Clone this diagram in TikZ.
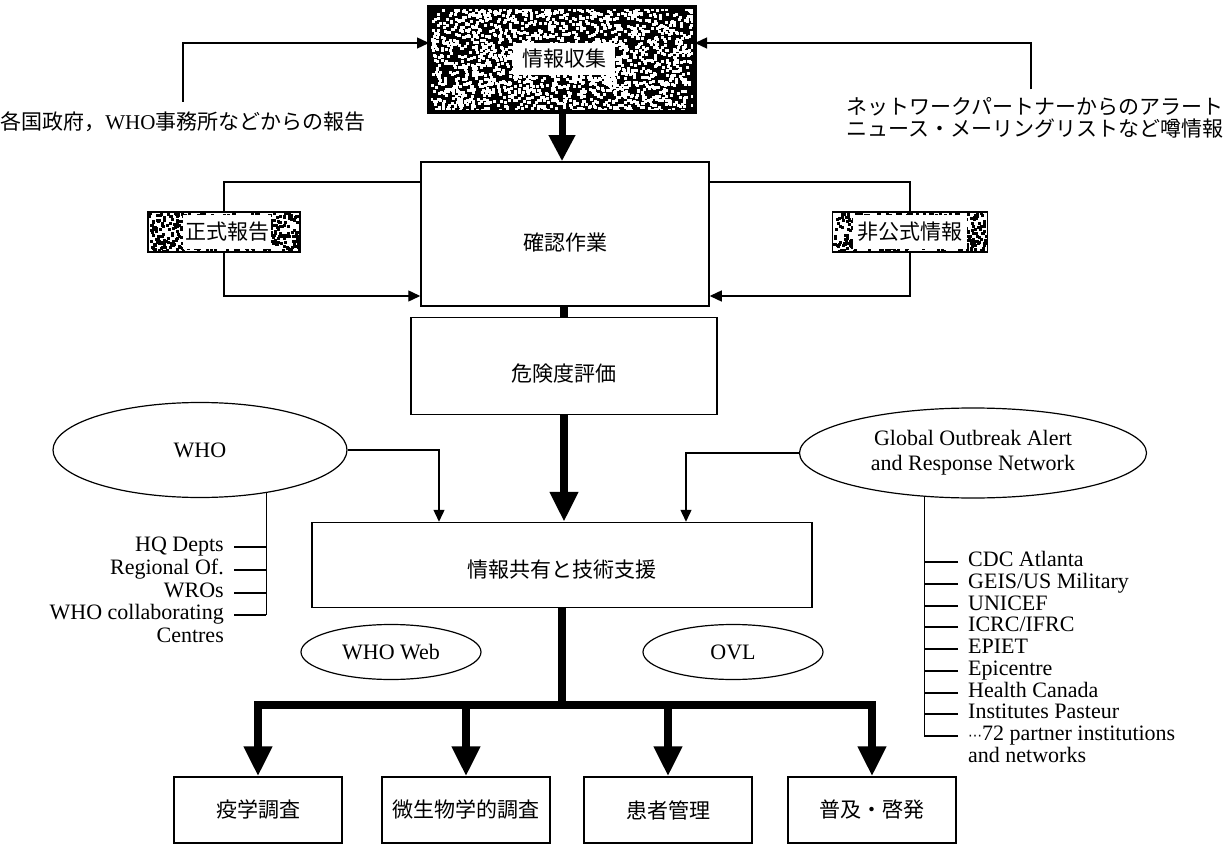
\documentclass[tikz,border=0pt]{standalone}
\usepackage{fontspec}
\setmainfont{Liberation Serif}
\newfontfamily\jp{Noto Sans CJK JP}
\newfontfamily\dv{DejaVu Sans}
\usetikzlibrary{arrows.meta,shapes.geometric}
\tikzset{
 conn/.style={line width=1.4pt},
 tarrow/.style={conn,-{Triangle[length=12pt,width=11pt]}},
 bigarrow/.style={line width=7.5pt,-{Triangle[length=30pt,width=27pt]}},
 thickline/.style={line width=7.5pt},
 plainbox/.style={draw,line width=1.5pt,fill=white,inner sep=0pt,font=\jp\fontsize{21}{26}\selectfont},
 jtext/.style={inner sep=0pt,font=\jp\fontsize{21}{26}\selectfont},
 etext/.style={inner sep=2pt,font=\fontsize{22}{23}\selectfont},
 listitem/.style={etext,text height=13pt,text depth=4pt},
 oval/.style={ellipse,draw,line width=1.2pt,inner sep=0pt,font=\fontsize{22}{25}\selectfont},
 noisybox/.style={draw,line width=1.2pt,fill=white,inner sep=0pt,outer sep=0pt},
 whitelabel/.style={fill=white,inner sep=0pt,font=\jp\fontsize{21}{26}\selectfont},
}
\begin{document}
\begin{tikzpicture}[x=1pt,y=-1pt]
\useasboundingbox (0,0) rectangle (1224,845);
\fill[white] (0,0) rectangle (1224,845);

% top box with noise
\node[fill=black,minimum width=266pt,minimum height=105pt,inner sep=0pt,outer sep=0pt] (collect) at (562,60) {};
\pgfmathsetseed{7}
\foreach \i in {1,...,1800}{
  \pgfmathsetmacro{\rx}{560.5+131*rand}
  \pgfmathsetmacro{\ry}{58.5+51*rand}
  \fill[white] (\rx,\ry) rectangle ++(3,3);
}
\draw[line width=4pt] (collect.north west) rectangle (collect.south east);
\node[whitelabel,minimum width=102pt,minimum height=32pt] (collectlbl) at (564,59) {情報収集};

% source texts
\node[jtext] (gov) at (183,122) {各国政府，{\rmfamily WHO}事務所などからの報告};
\node[jtext,align=center,font=\jp\fontsize{21}{22}\selectfont] (net) at (1035,118) {ネットワークパートナーからのアラート\\ニュース・メーリングリストなど噂情報};
\draw[tarrow] ([yshift=10pt]gov.north) |- ([yshift=17pt]collect.west);
\draw[tarrow] ([xshift=-4pt,yshift=8pt]net.north) |- ([yshift=17pt]collect.east);

% confirmation
\node[plainbox,minimum width=288pt,minimum height=144pt] (confirm) at (565,234) {};
\node[jtext] (confirmtxt) at (565,243) {確認作業};
\draw[line width=7pt,-{Triangle[length=26pt,width=25pt]}] (collect.south) -- (confirm.north -| collect.south);

% formal / informal
\node[noisybox,minimum width=152pt,minimum height=40pt] (formal) at (224,232) {};
\node[noisybox,minimum width=155pt,minimum height=40pt] (informal) at (910,232) {};
\foreach \i in {1,...,480}{
  \pgfmathsetmacro{\rx}{223+75*rand}
  \pgfmathsetmacro{\ry}{231+19*rand}
  \fill[black] (\rx,\ry) rectangle ++(3,3);
  \pgfmathsetmacro{\sx}{909+76*rand}
  \pgfmathsetmacro{\sy}{231+19*rand}
  \fill[black] (\sx,\sy) rectangle ++(3,3);
}
\draw[line width=1.2pt] (formal.north west) rectangle (formal.south east);
\draw[line width=1.2pt] (informal.north west) rectangle (informal.south east);
\node[whitelabel,minimum width=88pt,minimum height=34pt] (formallbl) at (227,232) {正式報告};
\node[whitelabel,minimum width=114pt,minimum height=34pt] (informallbl) at (910,232) {非公式情報};
\draw[conn] ([yshift=52pt]confirm.west) -| (formal.north);
\draw[tarrow] (formal.south) |- ([yshift=-62pt]confirm.west);
\draw[conn] ([yshift=52pt]confirm.east) -| (informal.north);
\draw[tarrow] (informal.south) |- ([yshift=-62pt]confirm.east);

% risk
\node[plainbox,minimum width=306pt,minimum height=97pt] (risk) at (564,366) {};
\node[jtext] (risktxt) at (564,374) {危険度評価};
\draw[thickline] (confirm.south -| risk.north) -- (risk.north);

% sharing
\node[plainbox,minimum width=500pt,minimum height=85pt] (share) at (562,565) {};
\node[jtext] (sharetxt) at (562,570) {情報共有と技術支援};
\draw[bigarrow] (risk.south) -- (share.north -| risk.south);

% WHO
\node[oval,minimum width=294pt,minimum height=95pt] (who) at (200,450) {WHO};
\draw[tarrow] (who.east) -| ([xshift=-123pt]share.north);
\node[listitem,anchor=east] (hq) at (226,547) {HQ Depts};
\node[listitem,anchor=east] (reg) at (226,570) {Regional Of.};
\node[listitem,anchor=east] (wros) at (226,593) {WROs};
\node[listitem,anchor=east] (collab) at (226,615) {WHO collaborating};
\node[listitem,anchor=east] (centres) at (226,638) {Centres};
\coordinate (whoj) at (who.327);
\draw[conn] (whoj) -- (whoj |- collab.east);
\foreach \n in {hq,reg,wros,collab} \draw[conn] ([xshift=8pt]\n.east) -- (\n.east -| whoj);

% GOARN
\node[oval,minimum width=347pt,minimum height=90pt,align=center] (goarn) at (973,453) {Global Outbreak Alert\\and Response Network};
\draw[tarrow] (goarn.west) -| ([xshift=124pt]share.north);
\node[listitem,anchor=west] (g1) at (966,562) {CDC Atlanta};
\node[listitem,anchor=west] (g2) at (966,584) {GEIS/US Military};
\node[listitem,anchor=west] (g3) at (966,606) {UNICEF};
\node[listitem,anchor=west] (g4) at (966,627) {ICRC/IFRC};
\node[listitem,anchor=west] (g5) at (966,649) {EPIET};
\node[listitem,anchor=west] (g6) at (966,671) {Epicentre};
\node[listitem,anchor=west] (g7) at (966,693) {Health Canada};
\node[listitem,anchor=west] (g8) at (966,714) {Institutes Pasteur};
\node[listitem,anchor=west] (g9) at (966,736) {{\dv\fontsize{14}{14}\selectfont ⋯}72 partner institutions};
\node[listitem,anchor=west] (g10) at (966,758) {and networks};
\coordinate (goj) at (goarn.222);
\draw[conn] (goj) -- (goj |- g9.west);
\foreach \n in {g1,g2,g3,g4,g5,g6,g7,g8,g9} \draw[conn] ([xshift=-8pt]\n.west) -- (\n.west -| goj);

% web / OVL
\node[oval,minimum width=180pt,minimum height=55pt] (whoweb) at (391,652) {WHO Web};
\node[oval,minimum width=180pt,minimum height=55pt] (ovl) at (733,652) {OVL};

% bottom boxes
\node[plainbox,minimum width=168pt,minimum height=66pt] (b1) at (258,810) {疫学調査};
\node[plainbox,minimum width=168pt,minimum height=66pt] (b2) at (466,810) {微生物学的調査};
\node[plainbox,minimum width=168pt,minimum height=66pt] (b3) at (668,810) {患者管理};
\node[plainbox,minimum width=168pt,minimum height=66pt] (b4) at (872,810) {普及・啓発};
\coordinate (bar) at (562,705);
\draw[thickline] (share.south) -- (bar);
\foreach \b in {b1,b2,b3,b4} \draw[bigarrow] (bar) -| (\b.north);
\end{tikzpicture}
\end{document}
